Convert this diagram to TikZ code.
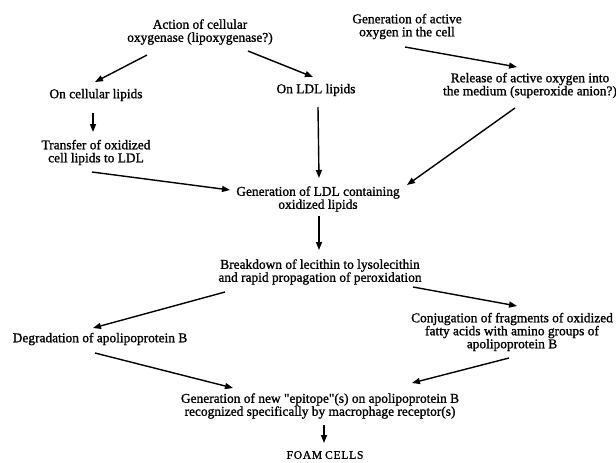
\documentclass[tikz,border=0pt]{standalone}
\usepackage{fontspec}
\setmainfont{Liberation Serif}[FakeBold=1.2]
\usetikzlibrary{arrows.meta,calc}
\tikzset{
  lbl/.style={inner sep=0pt, align=center, font=\fontsize{13.4}{13}\selectfont},
  arr/.style={line width=1.4pt, -{Triangle[length=8pt,width=6pt]}},
}
\begin{document}
\begin{tikzpicture}[x=1pt,y=-1pt]
\useasboundingbox (0,0) rectangle (616,463);
\node[lbl] (A) at (200,32) {Action of cellular\\oxygenase (lipoxygenase?)};
\node[lbl] (B) at (407,26.5) {Generation of active\\oxygen in the cell};
\node[lbl] (C) at (96,95) {On cellular lipids};
\node[lbl] (D) at (316,90) {On LDL lipids};
\node[lbl] (E) at (530,85.5) {Release of active oxygen into\\the medium (superoxide anion?)};
\node[lbl] (F) at (96,152.5) {Transfer of oxidized\\cell lipids to LDL};
\node[lbl] (G) at (318,199) {Generation of LDL containing\\oxidized lipids};
\node[lbl] (H) at (320,272) {Breakdown of lecithin to lysolecithin\\and rapid propagation of peroxidation};
\node[lbl] (I) at (100,339) {Degradation of apolipoprotein B};
\node[lbl] (J) at (512,332) {Conjugation of fragments of oxidized\\fatty acids with amino groups of\\apolipoprotein B};
\node[lbl] (K) at (320,406) {Generation of new \textquotedbl epitope\textquotedbl(s) on apolipoprotein B\\recognized specifically by macrophage receptor(s)};
\node[lbl, font=\fontsize{11.5}{13}\selectfont] (L) at (325,455) {F\kern.8pt O\kern.8pt A\kern.8pt M\ C\kern.8pt E\kern.8pt L\kern.8pt L\kern.8pt S};
\draw[arr] ($(A)+(-53,23)$) -- ($(C)+(-1,-13)$);
\draw[arr] ($(A)+(48,19)$) -- ($(D)+(-3,-13)$);
\draw[arr] ($(B)+(-2,20.5)$) -- ($(E)+(-13,-18.5)$);
\draw[arr] ($(C)+(-3,18)$) -- ($(F)+(-3,-20.5)$);
\draw[arr] ($(D)+(2,17)$) -- ($(G)+(1,-21)$);
\draw[arr] ($(F)+(-4,19.5)$) -- ($(G)+(-88,-9)$);
\draw[arr] ($(E)+(-15,22.5)$) -- ($(G)+(89,-14)$);
\draw[arr] ($(G)+(1,17)$) -- ($(H)+(-1,-22)$);
\draw[arr] ($(H)+(-95,20)$) -- ($(I)+(-7,-11)$);
\draw[arr] ($(H)+(93,15)$) -- ($(J)+(5,-26)$);
\draw[arr] ($(I)+(-5,14)$) -- ($(K)+(-87,-18)$);
\draw[arr] ($(J)+(-3,26)$) -- ($(K)+(92,-23)$);
\draw[arr] ($(K)+(4,19)$) -- ($(L)+(-1,-12)$);
\end{tikzpicture}
\end{document}
